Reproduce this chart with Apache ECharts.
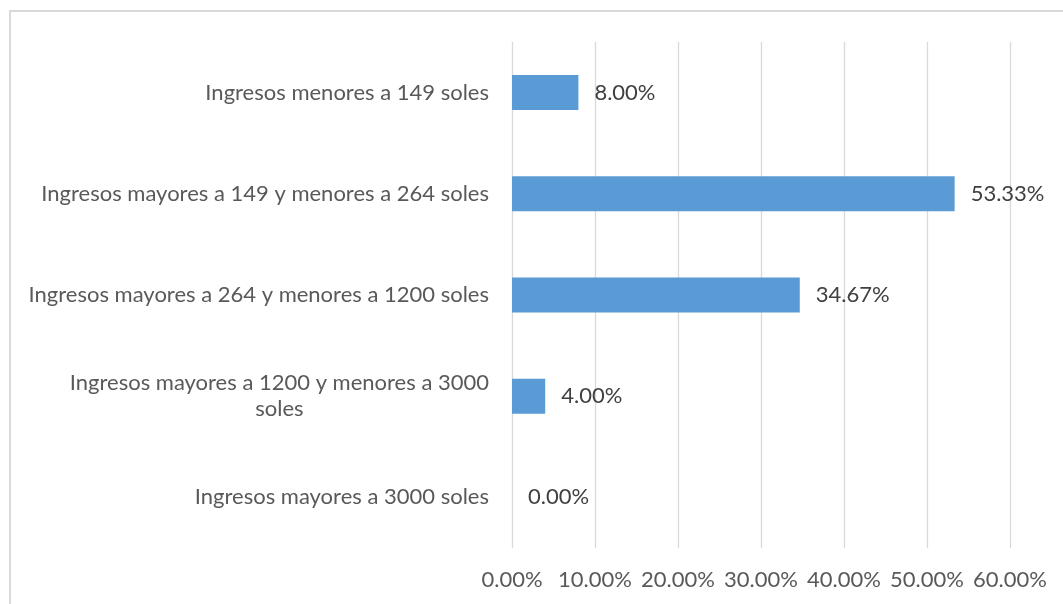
<!DOCTYPE html>
<html><head><meta charset="utf-8">
<script src="https://cdn.jsdelivr.net/npm/echarts@6/dist/echarts.min.js"></script>
<style>html,body{margin:0;padding:0;background:#fff;}#c{width:1063px;height:604px;}</style>
</head><body><div id="c"></div>
<script>
const categories = [
  "Ingresos menores a 149 soles",
  "Ingresos mayores a 149 y menores a 264 soles",
  "Ingresos mayores a 264 y menores a 1200 soles",
  "Ingresos mayores a 1200 y menores a 3000 soles",
  "Ingresos mayores a 3000 soles"
];
const values = [8.00, 53.33, 34.67, 4.00, 0.00];
const wrapped = {"Ingresos mayores a 1200 y menores a 3000 soles": ["Ingresos mayores a 1200 y menores a 3000", "soles"]};
const FONT = "Lato";
const FS = 22;
const chart = echarts.init(document.getElementById('c'));
chart.setOption({
  animation: false,
  textStyle: {fontFamily: FONT},
  graphic: [{type: 'rect', shape: {x: 10, y: 11, width: 1200, height: 800}, style: {fill: 'none', stroke: '#d9d9d9', lineWidth: 2}, silent: true, z: -10}],
  grid: {left: 512, right: 53, top: 42, bottom: 56},
  xAxis: {
    type: 'value', min: 0, max: 60, interval: 10,
    axisLine: {show: false}, axisTick: {show: false},
    splitLine: {lineStyle: {color: '#d9d9d9', width: 1.3}},
    axisLabel: {color: '#595959', fontSize: FS, fontFamily: FONT, margin: 21,
      formatter: v => v.toFixed(2) + '%'}
  },
  yAxis: {
    type: 'category', inverse: true, data: categories,
    axisLine: {show: false}, axisTick: {show: false},
    axisLabel: {color: '#595959', fontSize: FS, fontFamily: FONT, margin: 23, lineHeight: 26,
      formatter: v => wrapped[v] ? wrapped[v].map(s => '{c|' + s + '}').join('\n') : v,
      rich: {c: {align: 'center', color: '#595959', fontSize: FS, fontFamily: FONT, lineHeight: 26}}
    }
  },
  series: [{
    type: 'bar', data: values, barWidth: 35,
    itemStyle: {color: '#5b9bd5'},
    label: {show: true, position: 'right', distance: 16, color: '#404040', fontSize: FS, fontFamily: FONT,
      formatter: p => p.value.toFixed(2) + '%'}
  }]
});
</script></body></html>
